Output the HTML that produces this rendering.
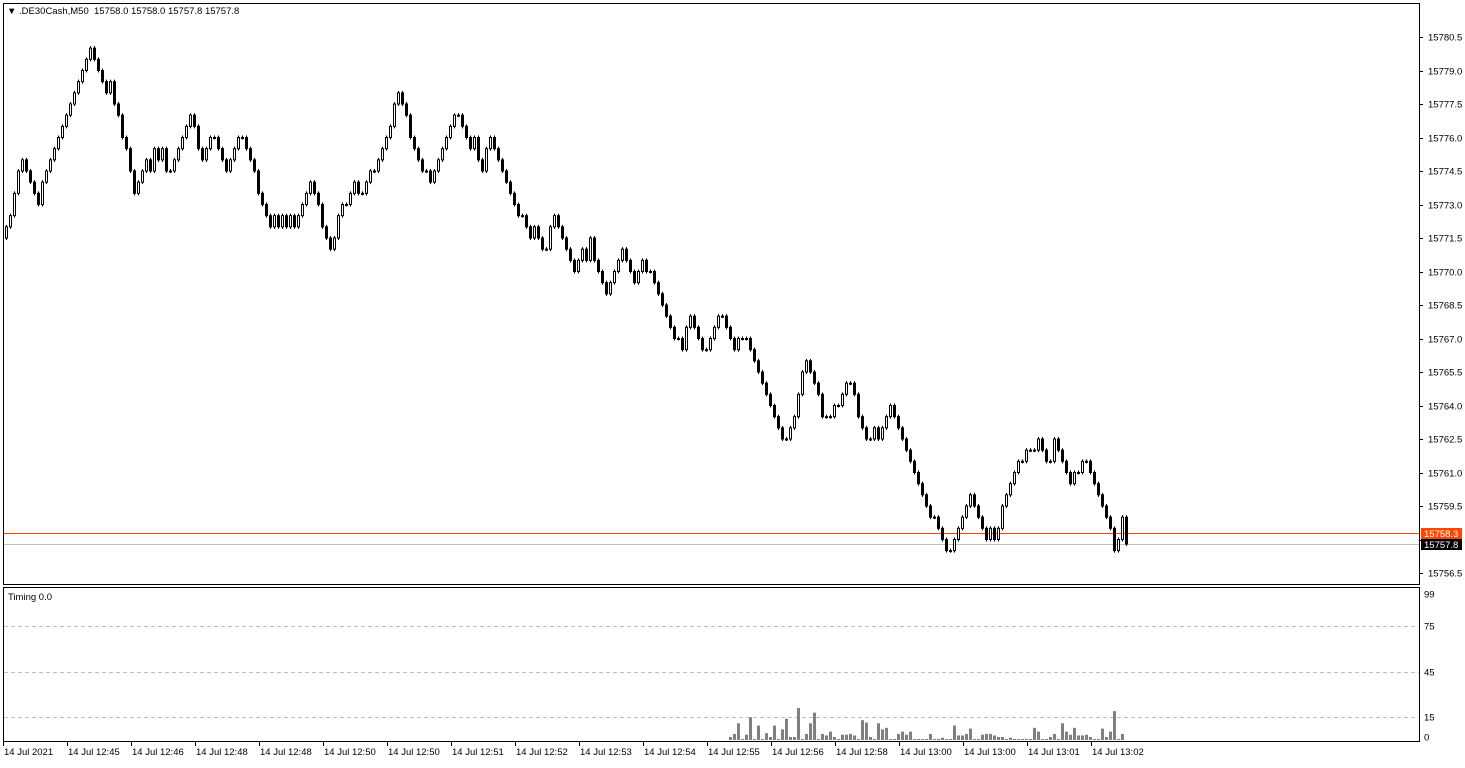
<!DOCTYPE html>
<html><head><meta charset="utf-8">
<style>
body{margin:0;background:#fff;width:1465px;height:763px;overflow:hidden;font-family:"Liberation Sans",sans-serif;}
svg text{font-family:"Liberation Sans",sans-serif;font-size:9.5px;fill:#000;}
</style></head>
<body>
<svg id="chart" width="1465" height="763" xmlns="http://www.w3.org/2000/svg">
<rect x="0" y="0" width="1465" height="763" fill="#fff"/>
<rect x="3.5" y="3.5" width="1416" height="581" fill="none" stroke="#000"/>
<rect x="3.5" y="587.5" width="1416" height="154" fill="none" stroke="#000"/>
<text x="7" y="14">▼ .DE30Cash,M50&#160;&#160;15758.0 15758.0 15757.8 15757.8</text>
<text x="8" y="600">Timing 0.0</text>
<g id="g-grid"></g><g id="g-candles"></g><g id="g-bars"></g><g id="g-axes"></g>
</svg>
<script>
const closes=[22,22.5,23.5,24.5,25,24.5,24,23.5,23,24,24.5,25,
25.5,26,26.5,27,27.5,28,28.5,29,29.5,30,
29.5,29,28.5,28,28.5,27.5,27,26,25.5,24.5,23.5,
24,24.5,25,24.5,25.5,25,25.5,24.5,24.5,
25,25.5,26,26.5,27,26.5,25.5,25,25.5,26,26,25.5,25,24.5,25,25.5,26,26,
25.5,25,24.5,23.5,23,22.5,22,
22.5,22,22.5,22,22.5,22,22.5,23,23.5,24,
23.5,23,22,21.5,21,21.5,22.5,23,23,23.5,24,23.5,23.5,24,24.5,24.5,
25,25.5,26,26.5,27.5,28,
27.5,27,26,25.5,25,24.5,24.5,24,
24.5,25,25.5,26,26.5,27,27,
26.5,26,25.5,26,25,24.5,25.5,26,
25.5,25,24.5,24,23.5,23,22.5,22.5,22,21.5,22,21.5,21,21,
22,22.5,22,21.5,21,20.5,20,20.5,21,20.5,21.5,20.5,20,19.5,19,
19.5,20,20.5,21,20.5,20,19.5,20,20.5,20,20,
19.5,19,18.5,18,17.5,17,17,16.5,17.5,18,17.5,17,16.5,16.5,17,17.5,18,18,
17.5,17,16.5,17,17,17,
16.5,16,15.5,15,14.5,14,13.5,13,12.5,12.5,
13,13.5,14.5,15.5,16,15.5,15,14.5,13.5,13.5,13.5,
14,14,14.5,15,15,14.5,13.5,13,12.5,12.5,13,12.5,13,13.5,14,
13.5,13,12.5,12,11.5,11,10.5,10,9.5,9,9,8.5,8,7.5,7.5,
8,8.5,9,9.5,10,9.5,9,8.5,8,8.5,8,8.5,9.5,
10,10.5,11,11.5,11.5,12,12,12,12.5,12,11.5,11.5,12.5,
12,11.5,11,10.5,11,11,11.5,11.5,
11,10.5,10,9.5,9,8.5,7.5,8,9,7.8];
const basePrice=15750;
const firstOpen=21.5;
const timing=[2,4,11,0.5,3.5,15,0.5,9.5,0.5,4.5,2,9.5,0.5,7,14,2,2,21,0.5,4,11,18,0.5,4,3,5.5,2,0.5,3.5,3.5,4,3,0.5,13,11.5,2,0.5,11,7,8,0.5,0.5,4,5.5,3.5,5.5,0.5,0.5,0.5,0.5,4,0.5,0.5,1.5,0.5,0.5,9.5,3,3,4,7.5,0.5,0.5,3.5,4,4,3,2,2,0.5,1.5,0.5,0.5,0.5,0.5,0.5,8,5.5,0.5,0.5,2,4,0.5,11,5.5,3.5,8,3,3,3.5,2,0.5,0.5,7.5,2,5.5,19,0.5,4];
const timingStart=181;
const priceTicks=[15780.5,15779.0,15777.5,15776.0,15774.5,15773.0,15771.5,15770.0,15768.5,15767.0,15765.5,15764.0,15762.5,15761.0,15759.5,15758.0,15756.5];
const timingTicks=[99,75,45,15,0];
const timeLabels=["14 Jul 2021","14 Jul 12:45","14 Jul 12:46","14 Jul 12:48","14 Jul 12:48","14 Jul 12:50","14 Jul 12:50","14 Jul 12:51","14 Jul 12:52","14 Jul 12:53","14 Jul 12:54","14 Jul 12:55","14 Jul 12:56","14 Jul 12:58","14 Jul 13:00","14 Jul 13:00","14 Jul 13:01","14 Jul 13:02"];
const bidPrice=15757.8, askPrice=15758.3;

const NS="http://www.w3.org/2000/svg";
function el(t,a,p){const e=document.createElementNS(NS,t);for(const k in a)e.setAttribute(k,a[k]);p.appendChild(e);return e;}
const py=p=>37+(15780.5-p)*(536/24);
const cx=i=>6+i*4;
const ty=v=>740-v*1.52;
const gC=document.getElementById('g-candles'),gB=document.getElementById('g-bars'),gA=document.getElementById('g-axes'),gG=document.getElementById('g-grid');

[75,45,15].forEach(v=>{
 const l=el('line',{x1:4,x2:1419,y1:Math.round(ty(v))+0.5,y2:Math.round(ty(v))+0.5,stroke:'#c0c0c0','stroke-dasharray':'4,3'},gG);
 
 
});
[[askPrice,'#ff4500'],[bidPrice,'#c0c0c0']].forEach(([p,c])=>{
 const l=el('line',{x1:4,x2:1419,y1:Math.round(py(p))+0.5,y2:Math.round(py(p))+0.5,stroke:c},gG);
 
 
});

let prev=firstOpen;
closes.forEach((c,i)=>{
 const o=prev;prev=c;
 const up=c>=o;
 const y1=py(basePrice+Math.max(o,c)),y2=py(basePrice+Math.min(o,c));
 const x=cx(i);
 const w=el('line',{x1:x+0.5,x2:x+0.5,y1:y1-2,y2:y2+2,stroke:'#000'},gC);
 
 
 const r=el('rect',{x:x-1+0.5,y:y1,width:2,height:Math.max(1,y2-y1),fill:up?'#fff':'#000',stroke:'#000'},gC);
 
 
});
timing.forEach((v,k)=>{
 const x=cx(timingStart+k);
 const h=Math.max(1,740-ty(v));
 const b=el('rect',{x:x-1,y:740-h,width:3,height:h,fill:'#808080'},gB);
 
 
});
priceTicks.forEach(p=>{
 const y=Math.round(py(p));
 el('line',{x1:1419,x2:1423,y1:y+0.5,y2:y+0.5,stroke:'#000'},gA);
 const t=el('text',{x:1428,y:y+3.5},gA);t.textContent=p.toFixed(1);
 
 
});
timingTicks.forEach(v=>{
 const y=v===99?594:v===0?737:Math.round(ty(v));
 const t=el('text',{x:1424,y:y+3.5},gA);t.textContent=v;
 
 
});
[[askPrice,'#ff4500'],[bidPrice,'#000']].forEach(([p,c])=>{
 const y=Math.round(py(p));
 const r=el('rect',{x:1421,y:y-5,width:41,height:11,fill:c},gA);
 
 
 const t=el('text',{x:1424,y:y+4,style:'fill:#fff'},gA);t.textContent=p.toFixed(1);
 
 
});
timeLabels.forEach((s,k)=>{
 const x=3+k*64;
 el('line',{x1:x+0.5,x2:x+0.5,y1:742,y2:746,stroke:'#000'},gA);
 const t=el('text',{x:x+1,y:755},gA);t.textContent=s;
 
 
});
</script>
</body></html>
